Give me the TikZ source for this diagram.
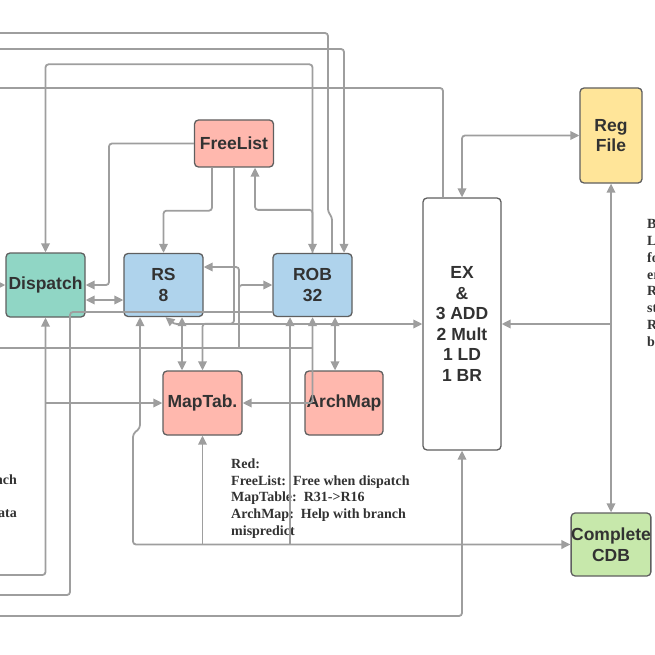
\documentclass[tikz,border=0pt]{standalone}
\usepackage{fontspec}
\setmainfont{Liberation Serif}
\newfontfamily\boxfont{Liberation Sans}
\usetikzlibrary{arrows.meta}

\definecolor{wire}{RGB}{158,158,158}
\definecolor{edge}{RGB}{95,95,95}
\definecolor{ink}{RGB}{50,50,50}
\definecolor{redbox}{RGB}{255,184,174}
\definecolor{bluebox}{RGB}{175,211,236}
\definecolor{tealbox}{RGB}{144,214,197}
\definecolor{yellowbox}{RGB}{255,229,153}
\definecolor{greenbox}{RGB}{199,232,171}

\tikzset{
	unit/.style={draw=edge, line width=1.3pt, rounded corners=4pt, inner sep=0pt,
		minimum width=79pt, minimum height=63pt, align=center, text=ink,
		font=\boxfont\bfseries\fontsize{17.5}{20.5}\selectfont},
	wire/.style={draw=wire, line width=1.8pt, rounded corners=3pt},
	note/.style={inner sep=0pt, text=ink, font=\bfseries\fontsize{14}{16.75}\selectfont},
}

\begin{document}
\begin{tikzpicture}[x=1pt, y=-1pt, >={Triangle[length=9pt, width=8.5pt]}]
	      	\useasboundingbox (0,0) rectangle (655,655);
	      	\node[unit, fill=redbox, minimum height=47pt] (FreeList) at (234,143.5) {FreeList};
	      	\node[unit, fill=tealbox, minimum height=64pt] (Dispatch) at (45.5,285) {Dispatch};
	      	\node[unit, fill=bluebox] (RS) at (163.5,285) {RS\\8};
	      	\node[unit, fill=bluebox] (ROB) at (312.5,285) {ROB\\32};
	      	\node[unit, fill=redbox, minimum height=64pt] (MapTab) at (202.5,403) {MapTab.};
	      	\node[unit, fill=redbox, minimum width=78pt, minimum height=64pt] (ArchMap) at (344,403) {ArchMap};
	      	\node[unit, fill=white, minimum width=78pt, minimum height=252pt] (EX) at (462,324) {EX\\\&\\3 ADD\\2 Mult\\1 LD\\1 BR};
	      	\node[unit, fill=yellowbox, minimum width=62pt, minimum height=95pt] (RegFile) at (611,135.5) {Reg\\File};
	      	\node[unit, fill=greenbox, minimum width=78pt] (CDB) at (611,544.5) {Complete\\CDB};
	      	\node[note, align=left, anchor=north west] (Legend) at (231,458.5) {Red:\\FreeList:~~Free when dispatch\\MapTable:~~R31->R16\\ArchMap:~~Help with branch\\mispredict};
	      	\node[note, align=left, anchor=north west] (SideNote) at (647,219.5) {B\\L\\fo\\er\\R\\st\\R\\b};
	      	\node[note, align=right, anchor=north east] (LeftNote) at (17,474.5) {nch\\[16.75pt]ata};
	      	% ends that leave the picture
	      	\coordinate (inA) at (-3,33);
	      	\coordinate (inB) at (-3,49);
	      	\coordinate (inC) at (-3,88);
	      	\coordinate (inD) at (-3,285);
	      	\coordinate (inE) at (-3,348);
	      	\coordinate (inF) at (-3,575);
	      	\coordinate (inG) at (-3,595);
	      	\coordinate (inH) at (-3,616);
	      	\coordinate (tapMap) at (45.5,403);
	      	\coordinate (tapBus) at (239,348);
	      	\coordinate (tapRS) at (239,290);
	      	\coordinate (tapCDBa) at (202.5,544.5);
	      	\coordinate (tapCDBb) at (290,544.5);
	      	\coordinate (tapEX) at (611,324);
	      	% top
	      	\draw[wire] (inA) -- (328,33) -- (328,212) -- (332,217) -- ([xshift=19.5pt]ROB.north);
	      	\draw[wire,->] (inB) -| ([xshift=31.5pt]ROB.north);
	      	\draw[wire,<->] (Dispatch.north) -- ++(0,-188) -| (ROB.north);
	      	\draw[wire] (inC) -| ([xshift=-19pt]EX.north);
	      	\draw[wire,->] (FreeList.west) -| (109,285) -- (Dispatch.east);
	      	\draw[wire,->] ([xshift=-22pt]FreeList.south) -- ++(0,43) -| (RS.north);
	      	\draw[wire,->] (FreeList.south) -- ++(0,156) -| (MapTab.north);
	      	\draw[wire,->] (ROB.north) -- ++(0,-43) -| ([xshift=21pt]FreeList.south);
	      	% middle
	      	\draw[wire,->] (inD) -- (Dispatch.west);
	      	\draw[wire,<->] ([yshift=-15pt]Dispatch.east) -- ([yshift=-15pt]RS.west);
	      	\draw[wire,->] (tapBus) |- (ROB.west);
	      	\draw[wire,->] (tapRS) |- ([yshift=18pt]RS.east);
	      	\draw[wire] ([yshift=-27pt]ROB.west) -| (70,595) -- (inG);
	      	\draw[wire,->] (inF) -| (Dispatch.south);
	      	\draw[wire,->] (tapMap) -- (MapTab.west);
	      	\draw[wire] (inE) -- (312.5,348);
	      	\draw[wire,<->] (ROB.south) |- (MapTab.east);
	      	\draw[wire,<->] ([xshift=22.5pt]ROB.south) -- ([xshift=-9pt]ArchMap.north);
	      	\draw[wire,<->] ([xshift=18.5pt]RS.south) -- ([xshift=-20.5pt]MapTab.north);
	      	\draw[wire,<->] ([xshift=2pt]RS.south) -- (174,324) -- (EX.west);
	      	% bottom
	      	\draw[wire,<->] ([xshift=-23.5pt]RS.south) -- (140,428) -- (133,434) -- (133,544.5) -- (CDB.west);
	      	\draw[wire,->] (tapCDBa) -- (MapTab.south);
	      	\draw[wire,->] (tapCDBb) -- ([xshift=-22.5pt]ROB.south);
	      	\draw[wire,->] (inH) -| (EX.south);
	      	% right
	      	\draw[wire,<->] (EX.north) |- (RegFile.west);
	      	\draw[wire,<->] (RegFile.south) -- (CDB.north);
	      	\draw[wire,->] (tapEX) -- (EX.east);
	      \end{tikzpicture}
\end{document}
